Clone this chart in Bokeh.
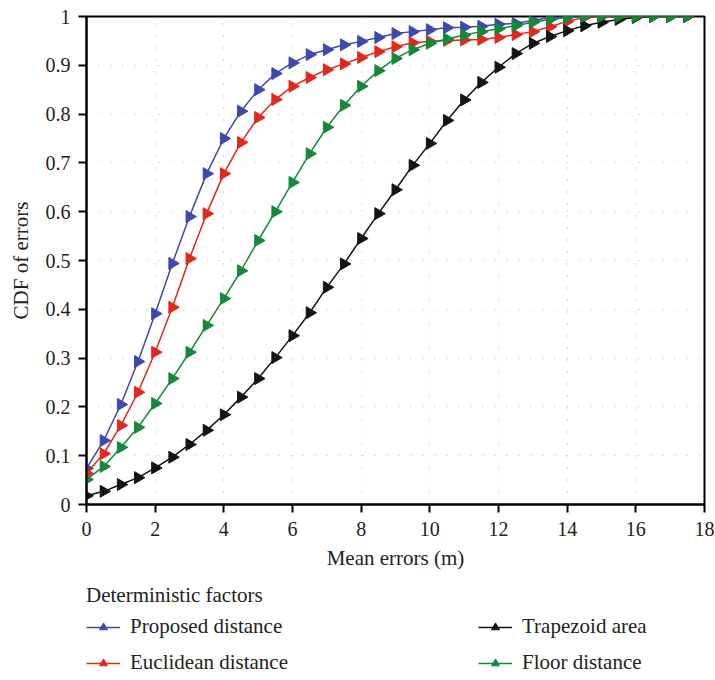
import math
from bokeh.plotting import figure
from bokeh.models import FixedTicker, Legend, LegendItem, Range1d
from bokeh.layouts import column
from bokeh.embed import file_html
from bokeh.resources import INLINE

x_vals = [0, 0.5, 1, 1.5, 2, 2.5, 3, 3.5, 4, 4.5, 5, 5.5, 6, 6.5, 7, 7.5, 8, 8.5,
          9, 9.5, 10, 10.5, 11, 11.5, 12, 12.5, 13, 13.5, 14, 14.5, 15, 15.5, 16,
          16.5, 17, 17.5]

proposed = [0.074, 0.131, 0.205, 0.293, 0.391, 0.494, 0.590, 0.678, 0.750, 0.806,
            0.850, 0.883, 0.905, 0.922, 0.932, 0.942, 0.949, 0.957, 0.965, 0.969,
            0.973, 0.977, 0.978, 0.980, 0.984, 0.986, 0.992, 0.998, 1, 1, 1, 1, 1,
            1, 1, 1]
euclidean = [0.064, 0.104, 0.162, 0.230, 0.312, 0.404, 0.504, 0.596, 0.678, 0.742,
             0.793, 0.830, 0.857, 0.875, 0.891, 0.903, 0.916, 0.928, 0.938, 0.946,
             0.949, 0.951, 0.952, 0.953, 0.957, 0.963, 0.969, 0.979, 0.990, 0.998,
             1, 1, 1, 1, 1, 1]
trapezoid = [0.018, 0.027, 0.041, 0.055, 0.075, 0.097, 0.123, 0.152, 0.184, 0.220,
             0.258, 0.301, 0.346, 0.393, 0.445, 0.493, 0.545, 0.596, 0.645, 0.695,
             0.740, 0.787, 0.829, 0.865, 0.896, 0.924, 0.945, 0.959, 0.971, 0.981,
             0.988, 0.994, 0.998, 1, 1, 1]
floor_d = [0.051, 0.078, 0.117, 0.158, 0.207, 0.258, 0.312, 0.367, 0.422, 0.479,
           0.541, 0.600, 0.660, 0.719, 0.773, 0.818, 0.857, 0.889, 0.914, 0.932,
           0.945, 0.954, 0.962, 0.969, 0.975, 0.981, 0.988, 0.994, 0.998, 1, 1, 1,
           1, 1, 1, 1]

series_names = ["Proposed distance", "Euclidean distance", "Trapezoid area", "Floor distance"]
series_colors = ["#3f48ac", "#e2281d", "#141414", "#14893a"]

x_ticks = [0, 2, 4, 6, 8, 10, 12, 14, 16, 18]
y_ticks = [0, 0.1, 0.2, 0.3, 0.4, 0.5, 0.6, 0.7, 0.8, 0.9, 1]
y_tick_labels = ["0", "0.1", "0.2", "0.3", "0.4", "0.5", "0.6", "0.7", "0.8", "0.9", "1"]

FONT = "Liberation Serif"
TXT = "#222222"

p = figure(width=715, height=580, output_backend="svg", toolbar_location=None,
           x_range=Range1d(0, 18), y_range=Range1d(0, 1),
           min_border_left=86, min_border_right=11, min_border_top=16,
           min_border_bottom=76)

p.outline_line_color = "black"
p.outline_line_width = 2

for ax in (p.xaxis[0], p.yaxis[0]):
    ax.axis_line_width = 2
    ax.axis_line_color = "black"
    ax.major_tick_line_width = 2
    ax.major_tick_line_color = "black"
    ax.major_tick_out = 8
    ax.major_tick_in = 0
    ax.minor_tick_line_color = None
    ax.major_label_text_font = FONT
    ax.major_label_text_font_size = "20px"
    ax.major_label_text_color = TXT
    ax.axis_label_text_font = FONT
    ax.axis_label_text_font_size = "21px"
    ax.axis_label_text_font_style = "normal"
    ax.axis_label_text_color = TXT

p.xaxis[0].ticker = FixedTicker(ticks=x_ticks)
p.yaxis[0].ticker = FixedTicker(ticks=y_ticks)
p.yaxis[0].major_label_overrides = {t: l for t, l in zip(y_ticks, y_tick_labels)}
p.xaxis[0].axis_label = "Mean errors (m)"
p.yaxis[0].axis_label = "CDF of errors"
p.xaxis[0].major_label_standoff = 9
p.yaxis[0].major_label_standoff = 8
p.xaxis[0].axis_label_standoff = 7
p.yaxis[0].axis_label_standoff = 10

p.xgrid.ticker = FixedTicker(ticks=x_ticks)
p.ygrid.ticker = FixedTicker(ticks=y_ticks)
for g in (p.xgrid[0], p.ygrid[0]):
    g.grid_line_color = "#b4b4b4"
    g.grid_line_dash = "1 11"
    g.grid_line_width = 1

all_series = [proposed, euclidean, trapezoid, floor_d]
for i in [0, 1, 2, 3]:
    ys = all_series[i]
    c = series_colors[i]
    p.line(x_vals, ys, line_color=c, line_width=1.5)
    p.scatter(x_vals, ys, marker="triangle", angle=-math.pi / 2, size=12,
              fill_color=c, line_color=c)

# legend panel: a separate figure below the chart; its ranges lie outside the
# data so only the legend is visible there
lg = figure(width=715, height=100, output_backend="svg", toolbar_location=None,
            x_range=Range1d(-2, -1), y_range=Range1d(-2, -1),
            min_border_left=0, min_border_right=0, min_border_top=0,
            min_border_bottom=0)
lg.axis.visible = False
lg.grid.visible = False
lg.outline_line_color = None

items = []
for i in [0, 1, 2, 3]:
    ys = all_series[i]
    c = series_colors[i]
    l = lg.line(x_vals, ys, line_color=c, line_width=1.5)
    s = lg.scatter(x_vals, ys, marker="triangle", angle=-math.pi / 2, size=9,
                   fill_color=c, line_color=c)
    items.append(LegendItem(label=series_names[i], renderers=[l, s]))

legend = Legend(items=items,
                orientation="vertical", nrows=2,
                title="Deterministic factors",
                title_text_font=FONT, title_text_font_size="21px",
                title_text_font_style="normal", title_text_color=TXT,
                label_text_font=FONT, label_text_font_size="21px",
                label_text_color=TXT,
                glyph_width=34, glyph_height=20, label_height=24,
                label_standoff=10, label_width=337, spacing=11,
                title_standoff=6, padding=0, margin=0,
                border_line_color=None, background_fill_alpha=0,
                location=(0, 5))
lg.add_layout(legend, "center")

layout = column(p, lg, spacing=0)
open("out.html", "w").write(file_html(layout, INLINE))
